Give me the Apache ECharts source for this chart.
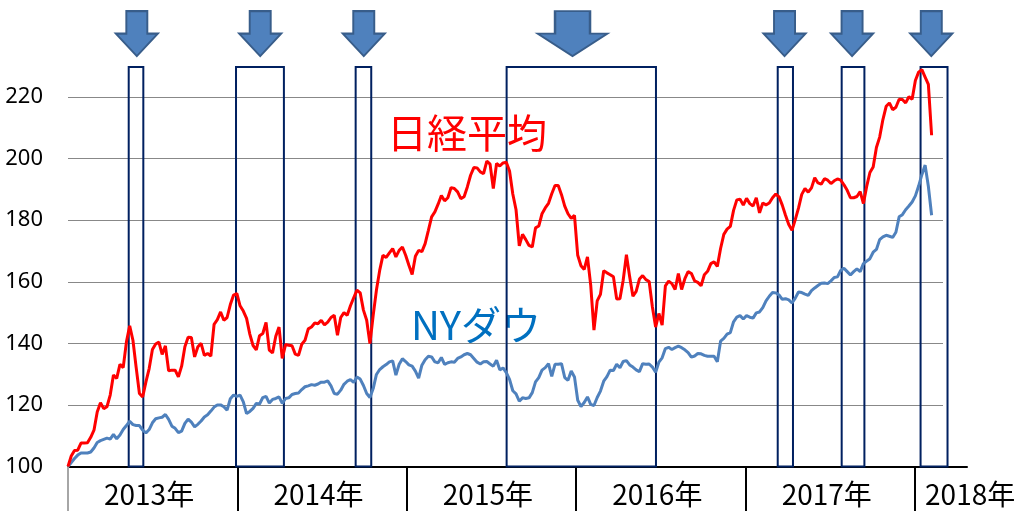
<!DOCTYPE html>
<html><head><meta charset="utf-8">
<script src="https://cdn.jsdelivr.net/npm/echarts@6.0.0/dist/echarts.min.js"></script>
<style>html,body{margin:0;padding:0;background:#fff}#c{width:1022px;height:511px}</style>
</head><body><div id="c"></div>
<script>
// Weekly index values (start of 2013 = 100), one value per week
const nikkei = [
100,103.4,105.2,105.3,107.6,107.6,107.7,109.5,111.8,117.7,
120.7,118.8,119.4,123.2,129.7,128.6,133.2,132.1,140.5,145.7,
141.0,132.1,123.7,122.6,127.5,131.8,138.0,139.8,140.4,136.4,
139.2,131.1,131.3,131.3,129.1,132.6,138.9,142.0,141.9,135.6,
138.9,140.0,136.1,136.7,135.9,146.2,147.7,150.2,147.5,148.4,
152.6,155.7,156.2,152.2,150.5,148.1,143.0,139.3,137.9,142.5,
143.2,146.8,137.8,136.9,142.3,145.3,135.1,139.6,139.4,139.2,
136.5,136.1,139.7,141.0,144.7,145.3,146.6,146.4,147.5,146.0,
146.9,148.4,149.1,142.6,148.4,150.0,149.1,152.2,154.8,157.3,
156.4,150.8,147.5,139.9,149.1,157.3,163.7,168.6,167.9,169.4,
170.8,168.1,170.2,171.3,168.6,165.4,162.4,168.3,170.2,169.8,
172.4,176.7,181.1,182.7,185.2,188.0,186.3,187.3,190.6,190.3,
189.2,187.0,187.6,190.8,194.6,197.1,197.0,195.7,195.1,199.2,
198.2,190.3,198.4,197.6,198.6,198.8,196.0,188.5,183.4,171.7,
175.4,173.7,171.8,171.3,177.5,178.1,182.1,184.0,185.5,188.6,
191.3,191.3,188.3,184.6,182.1,180.6,181.6,168.6,165.2,164.0,
168.1,158.9,144.3,153.8,155.9,163.6,162.9,162.3,161.6,154.4,
154.5,160.5,168.8,161.6,155.3,156.9,160.9,162.0,160.7,160.1,
151.8,145.3,149.7,145.9,158.7,160.2,159.4,157.5,162.7,157.5,
161.0,163.3,162.7,160.3,159.8,158.7,162.3,163.4,165.9,166.5,
165.0,170.8,175.4,177.1,178.0,183.2,186.6,186.8,184.9,187.1,
185.4,184.6,187.3,182.4,185.6,185.0,185.6,187.3,188.5,187.6,
184.9,181.6,178.6,176.7,180.2,183.9,188.4,190.3,189.1,190.5,
193.8,192.1,191.7,193.5,193.0,191.9,192.8,193.4,193.0,191.5,
189.7,187.3,187.3,187.7,189.3,185.4,191.0,195.5,197.3,203.6,
207.0,212.7,217.0,218.1,215.9,216.7,219.3,219.2,218.1,220.1,
219.3,225.4,228.1,228.9,226.5,224.1,207.6
];
const nyDow = [
100,101.3,102.6,103.7,104.4,104.4,104.4,104.7,106.0,107.8,
108.4,108.8,109.2,108.9,110.4,109.0,110.2,112.0,113.3,114.7,
113.6,113.3,113.3,111.8,110.9,112.0,114.2,115.5,115.8,116.0,
116.9,115.3,113.1,112.4,111.0,111.5,114.0,115.4,114.4,112.9,
113.7,114.8,116.1,116.8,118.0,119.3,120.0,120.0,119.4,118.3,
122.0,123.2,122.8,123.2,121.0,117.2,117.9,118.9,120.5,120.3,
122.4,122.8,120.6,121.8,122.1,122.6,120.5,122.1,122.3,123.4,
123.7,123.9,125.0,125.9,126.2,126.6,126.4,126.8,127.4,127.4,
127.8,126.2,123.7,123.5,124.8,126.7,127.7,128.2,127.3,129.1,
128.4,126.3,123.7,122.4,125.3,129.9,131.5,132.4,133.1,134.0,
134.3,129.7,133.2,135.0,134.1,133.0,132.6,131.0,128.7,132.9,
134.7,135.8,135.6,134.0,133.7,135.4,133.2,133.7,134.0,133.9,
135.1,135.6,136.3,136.7,136.3,135.1,133.9,133.3,134.0,134.1,
133.3,132.6,134.5,131.4,132.0,130.5,128.3,124.6,123.6,121.2,
122.3,122.1,122.3,124.0,127.5,128.9,131.3,132.1,133.4,129.3,
133.2,133.2,133.4,128.9,128.0,131.0,129.1,121.5,119.5,120.8,
122.6,120.2,119.8,122.4,124.5,127.7,129.2,131.3,131.2,133.2,
132.1,134.1,134.4,133.0,132.3,131.4,130.8,133.4,133.2,133.3,
132.3,130.6,133.9,135.3,138.3,138.7,138.0,138.6,139.1,138.6,
137.9,137.0,135.5,135.9,136.7,136.6,136.1,135.8,135.8,135.8,
134.0,140.7,141.6,143.0,143.5,147.0,148.5,149.0,147.9,149.0,
148.5,148.2,149.9,150.2,151.6,153.8,155.3,156.5,156.4,155.7,
154.3,154.5,154.1,153.1,154.7,156.7,156.5,156.0,155.6,157.1,
158.0,158.8,159.5,159.6,159.4,160.3,161.4,161.6,163.7,164.4,
163.3,162.2,163.3,164.2,163.3,165.9,166.7,167.5,169.6,170.5,
173.7,174.6,175.1,174.8,174.4,176.1,181.1,181.8,183.4,184.6,
185.9,187.9,191.1,194.8,197.9,191.0,181.6
];
const yearLabels = ['2013年','2014年','2015年','2016年','2017年','2018年'];
const weeksPerYear = 52.18;
// highlighted periods, in weeks from the start of 2013
const highlightWeeks = [[18.7,23.2],[51.75,66.5],[88.6,93.4],[135.1,181.1],[218.6,223.3],[238.3,245.3],[262.6,270.9]];
// arrows marking those periods, in weeks
const arrowWeeks = [21.2, 59.2, 91.1, 155.4, 220.7, 241.5, 265.9];
const seriesNames = ['日経平均', 'NYダウ'];

const yearStarts = yearLabels.map((_, k) => +(k * weeksPerYear).toFixed(2));
const chart = echarts.init(document.getElementById('c'), null, {renderer: 'canvas'});
const arrowPath = 'path://M10,0L30,0L30,24L40,24L20,48L0,24L10,24Z';
// same vertical scale in both grids: 431px per 140 units
const pxPerUnit = 431 / 140;

chart.setOption({
  animation: false,
  backgroundColor: '#fff',
  grid: [
    {left: 68, right: 79, top: 35.5, bottom: 44.5},
    {left: 68, right: 55, top: 466.5 - 150 * pxPerUnit, bottom: 44.5}
  ],
  xAxis: [
    {gridIndex: 0, type: 'value', min: 0, max: 269.5,
     axisLine: {show: false}, axisLabel: {show: false}, splitLine: {show: false},
     axisTick: {show: true, length: 45, lineStyle: {color: '#a6a6a6', width: 2}, customValues: [yearStarts[0]]}},
    {gridIndex: 1, type: 'value', min: 0, max: 276.9, interval: weeksPerYear,
     axisLine: {onZero: false, lineStyle: {color: '#000', width: 2}},
     axisTick: {length: 45, lineStyle: {color: '#000', width: 2}, customValues: yearStarts.slice(1)},
     splitLine: {show: false},
     axisLabel: {
       customValues: yearStarts, align: 'left', margin: 14,
       formatter: v => {
         const k = Math.round(v / weeksPerYear);
         return (k === yearLabels.length - 1 ? '{p|' : '{f|') + yearLabels[k] + '}';
       },
       rich: {
         f: {fontSize: 28, fontFamily: 'Noto Sans CJK JP', color: '#000', padding: [0, 0, 0, 36]},
         p: {fontSize: 28, fontFamily: 'Noto Sans CJK JP', color: '#000', padding: [0, 0, 0, 10]}
       }
     }}
  ],
  yAxis: [
    {gridIndex: 0, type: 'value', min: 100, max: 240, interval: 20,
     axisLine: {show: false}, axisTick: {show: false},
     axisLabel: {fontSize: 22, fontFamily: 'Noto Sans', color: '#000', margin: 25, showMaxLabel: false},
     splitLine: {show: true, showMaxLine: false, showMinLine: false, lineStyle: {color: '#888', width: 1}}},
    {gridIndex: 1, type: 'value', min: 100, max: 250, show: false}
  ],
  graphic: [
    {type: 'text', x: 467, y: 133, z: 0,
     style: {text: seriesNames[0], fill: '#FF0000', fontSize: 40, fontFamily: 'Noto Sans CJK JP', align: 'center', verticalAlign: 'middle'}},
    {type: 'text', x: 476, y: 325, z: 0,
     style: {text: seriesNames[1], fill: '#0070C0', fontSize: 40, fontFamily: 'Noto Sans CJK JP', align: 'center', verticalAlign: 'middle'}}
  ],
  series: [
    {name: seriesNames[1], type: 'line', xAxisIndex: 1, yAxisIndex: 1,
     data: nyDow.map((v, i) => [i, v]), symbol: 'none',
     lineStyle: {color: '#4F81BD', width: 3}, itemStyle: {color: '#4F81BD'},
     markArea: {silent: true, label: {show: false},
       itemStyle: {color: 'rgba(0,0,0,0)', borderColor: '#002060', borderWidth: 2},
       data: highlightWeeks.map(([a, b]) => [{xAxis: a, yAxis: 100}, {xAxis: b, yAxis: 229.8}])},
     markPoint: {silent: true, symbol: arrowPath, label: {show: false},
       itemStyle: {color: '#4F81BD', borderColor: '#385D8A', borderWidth: 2},
       data: arrowWeeks.map((w, k) => ({coord: [w, 240.6], symbolSize: k === 3 ? [70, 45] : [42, 45]}))}
    },
    {name: seriesNames[0], type: 'line', xAxisIndex: 1, yAxisIndex: 1,
     data: nikkei.map((v, i) => [i, v]), symbol: 'none',
     lineStyle: {color: '#FF0000', width: 3}, itemStyle: {color: '#FF0000'}}
  ]
});
</script></body></html>
